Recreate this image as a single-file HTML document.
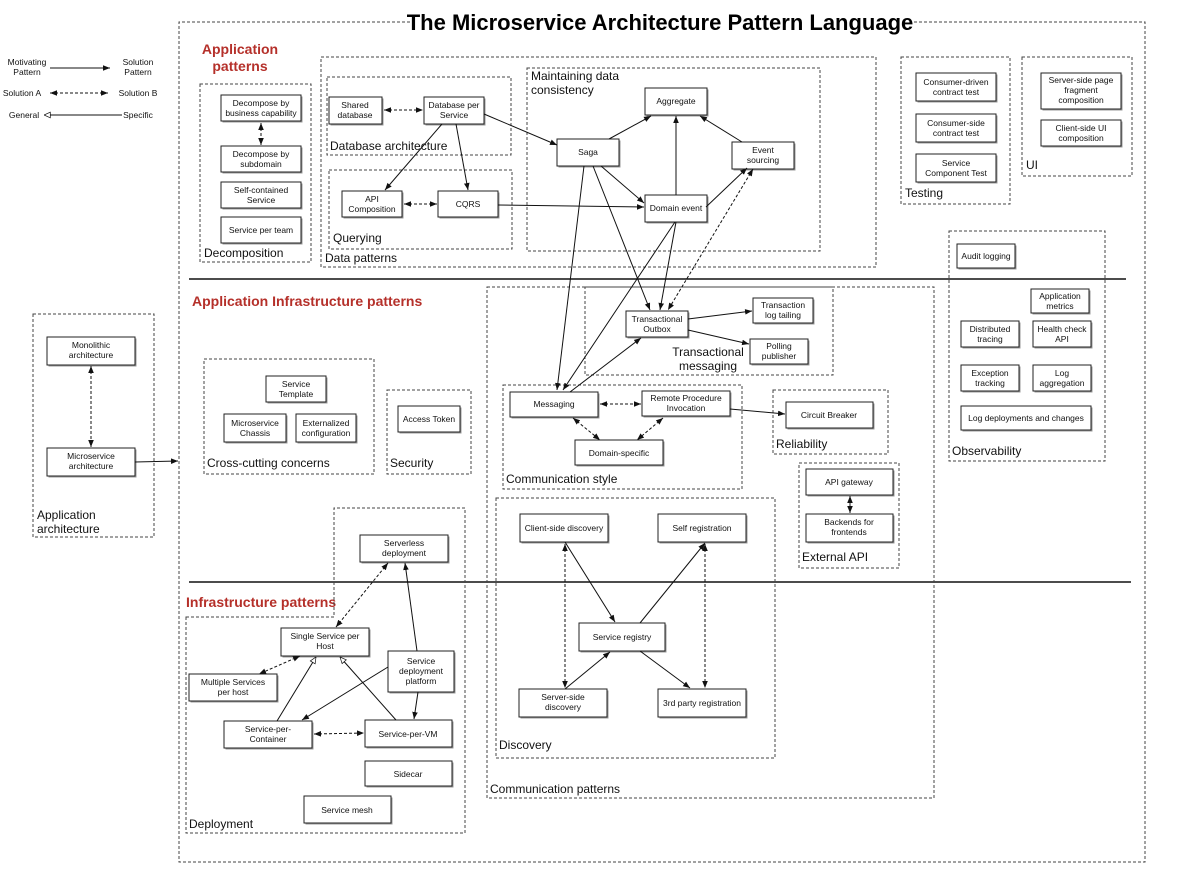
<!DOCTYPE html>
<html><head><meta charset="utf-8"><style>
html,body{margin:0;padding:0;background:#fff}
svg{display:block;font-family:"Liberation Sans",Arial,sans-serif}
.b{fill:#fff;stroke:#222;stroke-width:1}
.s{fill:#999}
.d{fill:none;stroke:#444;stroke-width:1;stroke-dasharray:3,2}
.t{font-size:8.5px;text-anchor:middle;fill:#111}
.l{font-size:12px;fill:#111}
.r{font-size:14px;font-weight:bold;fill:#b5302a}
.a{stroke:#111;stroke-width:1;fill:none}
.ad{stroke:#111;stroke-width:1;fill:none;stroke-dasharray:3,2}
</style></head><body>
<svg width="1200" height="874" viewBox="0 0 1200 874">
<defs>
<marker id="ar" viewBox="0 0 10 10" refX="10" refY="5" markerWidth="7" markerHeight="7" orient="auto-start-reverse"><path d="M0,1 L10,5 L0,9 z" fill="#111"/></marker>
<marker id="ho" viewBox="0 0 10 10" refX="10" refY="5" markerWidth="7" markerHeight="7" orient="auto"><path d="M1,1 L10,5 L1,9 z" fill="#fff" stroke="#111"/></marker>
</defs>
<!-- outer -->
<path class="d" d="M410,22 L179,22 L179,862 L1145,862 L1145,22 L910,22"/>
<text x="660" y="30" text-anchor="middle" font-size="22" font-weight="bold">The Microservice Architecture Pattern Language</text>
<!-- legend -->
<text class="t" x="27" y="65">Motivating</text><text class="t" x="27" y="75">Pattern</text>
<line class="a" x1="50" y1="68" x2="110" y2="68" marker-end="url(#ar)"/>
<text class="t" x="138" y="65">Solution</text><text class="t" x="138" y="75">Pattern</text>
<text class="t" x="22" y="96">Solution A</text>
<line class="ad" x1="50" y1="93" x2="108" y2="93" marker-start="url(#ar)" marker-end="url(#ar)"/>
<text class="t" x="138" y="96">Solution B</text>
<text class="t" x="24" y="118">General</text>
<line class="a" x1="122" y1="115" x2="44" y2="115" marker-end="url(#ho)"/>
<text class="t" x="138" y="118">Specific</text>
<!-- separators -->
<line x1="189" y1="279" x2="1126" y2="279" stroke="#111" stroke-width="1.5"/>
<line x1="189" y1="582" x2="1131" y2="582" stroke="#111" stroke-width="1.5"/>
<text class="r" x="240" y="54" text-anchor="middle">Application</text>
<text class="r" x="240" y="71" text-anchor="middle">patterns</text>
<text class="r" x="192" y="306">Application Infrastructure patterns</text>
<text class="r" x="186" y="607">Infrastructure patterns</text>
<!-- groups -->
<rect class="d" x="200" y="84" width="111" height="178"/><text class="l" x="204" y="257">Decomposition</text>
<rect class="d" x="321" y="57" width="555" height="210"/><text class="l" x="325" y="262">Data patterns</text>
<rect class="d" x="327" y="77" width="184" height="78"/><text class="l" x="330" y="150">Database architecture</text>
<rect class="d" x="329" y="170" width="183" height="79"/><text class="l" x="333" y="242">Querying</text>
<rect class="d" x="527" y="68" width="293" height="183"/><text class="l" x="531" y="80">Maintaining data</text><text class="l" x="531" y="94">consistency</text>
<rect class="d" x="901" y="57" width="109" height="147"/><text class="l" x="905" y="197">Testing</text>
<rect class="d" x="1022" y="57" width="110" height="119"/><text class="l" x="1026" y="169">UI</text>
<rect class="d" x="33" y="314" width="121" height="223"/><text class="l" x="37" y="519">Application</text><text class="l" x="37" y="533">architecture</text>
<rect class="d" x="204" y="359" width="170" height="115"/><text class="l" x="207" y="467">Cross-cutting concerns</text>
<rect class="d" x="387" y="390" width="84" height="84"/><text class="l" x="390" y="467">Security</text>
<rect class="d" x="487" y="287" width="447" height="511"/><text class="l" x="490" y="793">Communication patterns</text>
<rect class="d" x="585" y="287" width="248" height="88"/>
<text class="l" x="708" y="356" text-anchor="middle">Transactional</text><text class="l" x="708" y="370" text-anchor="middle">messaging</text>
<rect class="d" x="503" y="385" width="239" height="104"/><text class="l" x="506" y="483">Communication style</text>
<rect class="d" x="773" y="390" width="115" height="64"/><text class="l" x="776" y="448">Reliability</text>
<rect class="d" x="799" y="463" width="100" height="105"/><text class="l" x="802" y="561">External API</text>
<rect class="d" x="496" y="498" width="279" height="260"/><text class="l" x="499" y="749">Discovery</text>
<rect class="d" x="949" y="231" width="156" height="230"/><text class="l" x="952" y="455">Observability</text>
<path class="d" d="M186,617 L334,617 L334,508 L465,508 L465,833 L186,833 Z"/><text class="l" x="189" y="828">Deployment</text>
<!-- boxes -->
<g id="boxes">
<!-- generated list -->
</g>
<g>
<!-- box helper: shadow + rect -->
<rect class="s" x="222.5" y="96.5" width="80" height="26"/><rect class="b" x="221" y="95" width="80" height="26"/><text class="t" x="261" y="106">Decompose by</text><text class="t" x="261" y="116">business capability</text>
<rect class="s" x="222.5" y="147.5" width="80" height="26"/><rect class="b" x="221" y="146" width="80" height="26"/><text class="t" x="261" y="157">Decompose by</text><text class="t" x="261" y="167">subdomain</text>
<rect class="s" x="222.5" y="183.5" width="80" height="26"/><rect class="b" x="221" y="182" width="80" height="26"/><text class="t" x="261" y="193">Self-contained</text><text class="t" x="261" y="203">Service</text>
<rect class="s" x="222.5" y="218.5" width="80" height="26"/><rect class="b" x="221" y="217" width="80" height="26"/><text class="t" x="261" y="233">Service per team</text>

<rect class="s" x="330.5" y="98.5" width="53" height="27"/><rect class="b" x="329" y="97" width="53" height="27"/><text class="t" x="355" y="108">Shared</text><text class="t" x="355" y="118">database</text>
<rect class="s" x="425.5" y="98.5" width="60" height="27"/><rect class="b" x="424" y="97" width="60" height="27"/><text class="t" x="454" y="108">Database per</text><text class="t" x="454" y="118">Service</text>
<rect class="s" x="343.5" y="192.5" width="60" height="26"/><rect class="b" x="342" y="191" width="60" height="26"/><text class="t" x="372" y="202">API</text><text class="t" x="372" y="212">Composition</text>
<rect class="s" x="439.5" y="192.5" width="60" height="26"/><rect class="b" x="438" y="191" width="60" height="26"/><text class="t" x="468" y="207">CQRS</text>

<rect class="s" x="646.5" y="89.5" width="62" height="27"/><rect class="b" x="645" y="88" width="62" height="27"/><text class="t" x="676" y="104">Aggregate</text>
<rect class="s" x="558.5" y="140.5" width="62" height="27"/><rect class="b" x="557" y="139" width="62" height="27"/><text class="t" x="588" y="155">Saga</text>
<rect class="s" x="733.5" y="143.5" width="62" height="27"/><rect class="b" x="732" y="142" width="62" height="27"/><text class="t" x="763" y="153">Event</text><text class="t" x="763" y="163">sourcing</text>
<rect class="s" x="646.5" y="196.5" width="62" height="27"/><rect class="b" x="645" y="195" width="62" height="27"/><text class="t" x="676" y="211">Domain event</text>

<rect class="s" x="917.5" y="74.5" width="80" height="28"/><rect class="b" x="916" y="73" width="80" height="28"/><text class="t" x="956" y="85">Consumer-driven</text><text class="t" x="956" y="95">contract test</text>
<rect class="s" x="917.5" y="115.5" width="80" height="28"/><rect class="b" x="916" y="114" width="80" height="28"/><text class="t" x="956" y="126">Consumer-side</text><text class="t" x="956" y="136">contract test</text>
<rect class="s" x="917.5" y="155.5" width="80" height="28"/><rect class="b" x="916" y="154" width="80" height="28"/><text class="t" x="956" y="166">Service</text><text class="t" x="956" y="176">Component Test</text>
<rect class="s" x="1042.5" y="74.5" width="80" height="36"/><rect class="b" x="1041" y="73" width="80" height="36"/><text class="t" x="1081" y="83">Server-side page</text><text class="t" x="1081" y="93">fragment</text><text class="t" x="1081" y="103">composition</text>
<rect class="s" x="1042.5" y="121.5" width="80" height="26"/><rect class="b" x="1041" y="120" width="80" height="26"/><text class="t" x="1081" y="131">Client-side  UI</text><text class="t" x="1081" y="141">composition</text>

<rect class="s" x="48.5" y="338.5" width="88" height="28"/><rect class="b" x="47" y="337" width="88" height="28"/><text class="t" x="91" y="348">Monolithic</text><text class="t" x="91" y="358">architecture</text>
<rect class="s" x="48.5" y="449.5" width="88" height="28"/><rect class="b" x="47" y="448" width="88" height="28"/><text class="t" x="91" y="459">Microservice</text><text class="t" x="91" y="469">architecture</text>

<rect class="s" x="267.5" y="377.5" width="60" height="26"/><rect class="b" x="266" y="376" width="60" height="26"/><text class="t" x="296" y="387">Service</text><text class="t" x="296" y="397">Template</text>
<rect class="s" x="225.5" y="415.5" width="62" height="28"/><rect class="b" x="224" y="414" width="62" height="28"/><text class="t" x="255" y="426">Microservice</text><text class="t" x="255" y="436">Chassis</text>
<rect class="s" x="297.5" y="415.5" width="60" height="28"/><rect class="b" x="296" y="414" width="60" height="28"/><text class="t" x="326" y="426">Externalized</text><text class="t" x="326" y="436">configuration</text>
<rect class="s" x="399.5" y="407.5" width="62" height="26"/><rect class="b" x="398" y="406" width="62" height="26"/><text class="t" x="429" y="422">Access Token</text>

<rect class="s" x="627.5" y="312.5" width="62" height="26"/><rect class="b" x="626" y="311" width="62" height="26"/><text class="t" x="657" y="322">Transactional</text><text class="t" x="657" y="332">Outbox</text>
<rect class="s" x="754.5" y="299.5" width="60" height="25"/><rect class="b" x="753" y="298" width="60" height="25"/><text class="t" x="783" y="308">Transaction</text><text class="t" x="783" y="318">log tailing</text>
<rect class="s" x="751.5" y="340.5" width="58" height="25"/><rect class="b" x="750" y="339" width="58" height="25"/><text class="t" x="779" y="349">Polling</text><text class="t" x="779" y="359">publisher</text>
<rect class="s" x="511.5" y="393.5" width="88" height="25"/><rect class="b" x="510" y="392" width="88" height="25"/><text class="t" x="554" y="407">Messaging</text>
<rect class="s" x="643.5" y="392.5" width="88" height="25"/><rect class="b" x="642" y="391" width="88" height="25"/><text class="t" x="686" y="401">Remote Procedure</text><text class="t" x="686" y="411">Invocation</text>
<rect class="s" x="576.5" y="441.5" width="88" height="25"/><rect class="b" x="575" y="440" width="88" height="25"/><text class="t" x="619" y="456">Domain-specific</text>
<rect class="s" x="787.5" y="403.5" width="87" height="26"/><rect class="b" x="786" y="402" width="87" height="26"/><text class="t" x="829" y="418">Circuit Breaker</text>
<rect class="s" x="807.5" y="470.5" width="87" height="26"/><rect class="b" x="806" y="469" width="87" height="26"/><text class="t" x="849" y="485">API gateway</text>
<rect class="s" x="807.5" y="515.5" width="87" height="28"/><rect class="b" x="806" y="514" width="87" height="28"/><text class="t" x="849" y="525">Backends for</text><text class="t" x="849" y="535">frontends</text>

<rect class="s" x="521.5" y="515.5" width="88" height="28"/><rect class="b" x="520" y="514" width="88" height="28"/><text class="t" x="564" y="531">Client-side discovery</text>
<rect class="s" x="659.5" y="515.5" width="88" height="28"/><rect class="b" x="658" y="514" width="88" height="28"/><text class="t" x="702" y="531">Self registration</text>
<rect class="s" x="580.5" y="624.5" width="86" height="28"/><rect class="b" x="579" y="623" width="86" height="28"/><text class="t" x="622" y="640">Service registry</text>
<rect class="s" x="520.5" y="690.5" width="88" height="28"/><rect class="b" x="519" y="689" width="88" height="28"/><text class="t" x="563" y="700">Server-side</text><text class="t" x="563" y="710">discovery</text>
<rect class="s" x="659.5" y="690.5" width="88" height="28"/><rect class="b" x="658" y="689" width="88" height="28"/><text class="t" x="702" y="706">3rd party registration</text>

<rect class="s" x="958.5" y="245.5" width="58" height="24"/><rect class="b" x="957" y="244" width="58" height="24"/><text class="t" x="986" y="259">Audit logging</text>
<rect class="s" x="1032.5" y="290.5" width="58" height="24"/><rect class="b" x="1031" y="289" width="58" height="24"/><text class="t" x="1060" y="299">Application</text><text class="t" x="1060" y="309">metrics</text>
<rect class="s" x="962.5" y="322.5" width="58" height="26"/><rect class="b" x="961" y="321" width="58" height="26"/><text class="t" x="990" y="332">Distributed</text><text class="t" x="990" y="342">tracing</text>
<rect class="s" x="1034.5" y="322.5" width="58" height="26"/><rect class="b" x="1033" y="321" width="58" height="26"/><text class="t" x="1062" y="332">Health check</text><text class="t" x="1062" y="342">API</text>
<rect class="s" x="962.5" y="366.5" width="58" height="26"/><rect class="b" x="961" y="365" width="58" height="26"/><text class="t" x="990" y="376">Exception</text><text class="t" x="990" y="386">tracking</text>
<rect class="s" x="1034.5" y="366.5" width="58" height="26"/><rect class="b" x="1033" y="365" width="58" height="26"/><text class="t" x="1062" y="376">Log</text><text class="t" x="1062" y="386">aggregation</text>
<rect class="s" x="962.5" y="407.5" width="130" height="24"/><rect class="b" x="961" y="406" width="130" height="24"/><text class="t" x="1026" y="421">Log deployments and changes</text>

<rect class="s" x="361.5" y="536.5" width="88" height="27"/><rect class="b" x="360" y="535" width="88" height="27"/><text class="t" x="404" y="546">Serverless</text><text class="t" x="404" y="556">deployment</text>
<rect class="s" x="282.5" y="629.5" width="88" height="28"/><rect class="b" x="281" y="628" width="88" height="28"/><text class="t" x="325" y="639">Single Service per</text><text class="t" x="325" y="649">Host</text>
<rect class="s" x="190.5" y="675.5" width="88" height="27"/><rect class="b" x="189" y="674" width="88" height="27"/><text class="t" x="233" y="685">Multiple Services</text><text class="t" x="233" y="695">per host</text>
<rect class="s" x="389.5" y="652.5" width="66" height="41"/><rect class="b" x="388" y="651" width="66" height="41"/><text class="t" x="421" y="664">Service</text><text class="t" x="421" y="674">deployment</text><text class="t" x="421" y="684">platform</text>
<rect class="s" x="225.5" y="722.5" width="88" height="27"/><rect class="b" x="224" y="721" width="88" height="27"/><text class="t" x="268" y="732">Service-per-</text><text class="t" x="268" y="742">Container</text>
<rect class="s" x="366.5" y="721.5" width="87" height="27"/><rect class="b" x="365" y="720" width="87" height="27"/><text class="t" x="408" y="737">Service-per-VM</text>
<rect class="s" x="366.5" y="762.5" width="87" height="25"/><rect class="b" x="365" y="761" width="87" height="25"/><text class="t" x="408" y="777">Sidecar</text>
<rect class="s" x="305.5" y="797.5" width="87" height="27"/><rect class="b" x="304" y="796" width="87" height="27"/><text class="t" x="347" y="813">Service mesh</text>
</g>
<!-- connectors -->
<g>
<line class="ad" x1="261" y1="123" x2="261" y2="145" marker-start="url(#ar)" marker-end="url(#ar)"/>
<line class="ad" x1="384" y1="110" x2="423" y2="110" marker-start="url(#ar)" marker-end="url(#ar)"/>
<line class="ad" x1="404" y1="204" x2="437" y2="204" marker-start="url(#ar)" marker-end="url(#ar)"/>
<line class="a" x1="484" y1="114" x2="557" y2="145" marker-end="url(#ar)"/>
<line class="a" x1="442" y1="124" x2="385" y2="190" marker-end="url(#ar)"/>
<line class="a" x1="456" y1="124" x2="468" y2="190" marker-end="url(#ar)"/>
<line class="a" x1="498" y1="205" x2="644" y2="207" marker-end="url(#ar)"/>
<line class="a" x1="609" y1="139" x2="651" y2="116" marker-end="url(#ar)"/>
<line class="a" x1="676" y1="195" x2="676" y2="116" marker-end="url(#ar)"/>
<line class="a" x1="742" y1="142" x2="700" y2="116" marker-end="url(#ar)"/>
<line class="a" x1="601" y1="166" x2="644" y2="203" marker-end="url(#ar)"/>
<line class="a" x1="706" y1="207" x2="747" y2="168" marker-end="url(#ar)"/>
<line class="a" x1="593" y1="166" x2="650" y2="310" marker-end="url(#ar)"/>
<line class="a" x1="676" y1="222" x2="660" y2="310" marker-end="url(#ar)"/>
<line class="ad" x1="753" y1="169" x2="668" y2="310" marker-start="url(#ar)" marker-end="url(#ar)"/>
<line class="a" x1="584" y1="166" x2="557" y2="390" marker-end="url(#ar)"/>
<line class="a" x1="675" y1="222" x2="563" y2="390" marker-end="url(#ar)"/>
<line class="a" x1="570" y1="392" x2="641" y2="338" marker-end="url(#ar)"/>
<line class="a" x1="688" y1="319" x2="752" y2="311" marker-end="url(#ar)"/>
<line class="a" x1="688" y1="330" x2="749" y2="344" marker-end="url(#ar)"/>
<line class="ad" x1="600" y1="404" x2="641" y2="404" marker-start="url(#ar)" marker-end="url(#ar)"/>
<line class="ad" x1="573" y1="418" x2="600" y2="440" marker-start="url(#ar)" marker-end="url(#ar)"/>
<line class="ad" x1="663" y1="418" x2="637" y2="440" marker-start="url(#ar)" marker-end="url(#ar)"/>
<line class="a" x1="730" y1="409" x2="785" y2="414" marker-end="url(#ar)"/>
<line class="a" x1="850" y1="496" x2="850" y2="513" marker-start="url(#ar)" marker-end="url(#ar)"/>
<line class="a" x1="565" y1="542" x2="615" y2="622" marker-end="url(#ar)"/>
<line class="a" x1="640" y1="623" x2="705" y2="543" marker-end="url(#ar)"/>
<line class="ad" x1="565" y1="544" x2="565" y2="688" marker-start="url(#ar)" marker-end="url(#ar)"/>
<line class="ad" x1="705" y1="544" x2="705" y2="688" marker-start="url(#ar)" marker-end="url(#ar)"/>
<line class="a" x1="565" y1="689" x2="610" y2="652" marker-end="url(#ar)"/>
<line class="a" x1="640" y1="651" x2="690" y2="688" marker-end="url(#ar)"/>
<line class="ad" x1="91" y1="366" x2="91" y2="447" marker-start="url(#ar)" marker-end="url(#ar)"/>
<line class="a" x1="135" y1="462" x2="178" y2="461" marker-end="url(#ar)"/>
<line class="ad" x1="388" y1="563" x2="336" y2="627" marker-start="url(#ar)" marker-end="url(#ar)"/>
<line class="ad" x1="300" y1="656" x2="259" y2="674" marker-start="url(#ar)" marker-end="url(#ar)"/>
<line class="a" x1="277" y1="721" x2="316" y2="657" marker-end="url(#ho)"/>
<line class="a" x1="396" y1="720" x2="340" y2="657" marker-end="url(#ho)"/>
<line class="a" x1="417" y1="651" x2="405" y2="563" marker-end="url(#ar)"/>
<line class="a" x1="388" y1="667" x2="302" y2="720" marker-end="url(#ar)"/>
<line class="a" x1="418" y1="692" x2="414" y2="719" marker-end="url(#ar)"/>
<line class="ad" x1="314" y1="734" x2="364" y2="733" marker-start="url(#ar)" marker-end="url(#ar)"/>
</g>
</svg>
</body></html>
